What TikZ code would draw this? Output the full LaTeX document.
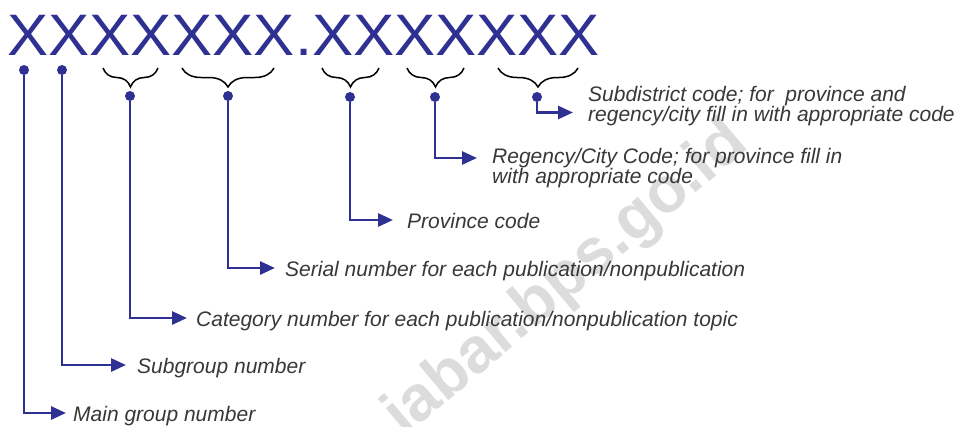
\documentclass[tikz,border=0pt]{standalone}
\usepackage{fontspec}
\setmainfont{Liberation Sans}
\usetikzlibrary{arrows.meta,decorations.pathreplacing,calc}
\definecolor{codeblue}{HTML}{2E3192}
\definecolor{labelgray}{HTML}{383838}
\definecolor{wmgray}{HTML}{DCDCDC}
\begin{document}
\begin{tikzpicture}[x=1pt,y=-1pt,
  conn/.style={draw=codeblue, line width=2.8pt, line join=miter, -{Triangle[length=15pt,width=13pt]}},
  dotnode/.style={circle, fill=codeblue, inner sep=0pt, minimum size=10pt},
  bracedec/.style={decorate, decoration={brace, mirror, amplitude=19pt}, draw=black, line width=1.5pt},
  lbl/.style={anchor=west, inner sep=0pt, text=labelgray, text height=17pt, text depth=0pt,
    font=\fontsize{21}{20}\selectfont\itshape},
  lbltwo/.style={anchor=north west, inner sep=0pt, text=labelgray, align=left,
    font=\fontsize{21}{20}\selectfont\itshape},
  codetext/.style={anchor=base west, inner sep=0pt, text=codeblue, font=\fontsize{58.5}{60}\selectfont},
  watermark/.style={anchor=base west, inner sep=0pt, rotate=40, text=wmgray, font=\fontsize{64}{64}\selectfont\bfseries}
]
\fill[white] (0,0) rectangle (961,426);
\useasboundingbox (0,0) rectangle (961,426);
\begin{scope}
\clip (0,0) rectangle (961,426);
\node[watermark] (wm) at (404,438) {jabar.bps.go.id};
\end{scope}

% code string
\node[codetext] (code) at (7,55) {\scalebox{1.054}[1]{XXXXXXX.XXXXXXX}};

% braces
\draw[bracedec] (103,68) -- (158,68);
\draw[bracedec] (182,68) -- (274,68);
\draw[bracedec] (322,68) -- (379,68);
\draw[bracedec] (407,68) -- (464,68);
\draw[bracedec] (498,68) -- (578,68);

% dots
\node[dotnode] (d1) at (24,70) {};
\node[dotnode] (d2) at (62,70) {};
\node[dotnode] (d3) at (130,96) {};
\node[dotnode] (d4) at (228,96) {};
\node[dotnode] (d5) at (350,97) {};
\node[dotnode] (d6) at (435,97) {};
\node[dotnode] (d7) at (537,97) {};

% labels
\node[lbl] (t1) at (73,413) {Main group number};
\node[lbl] (t2) at (137,365) {Subgroup number};
\node[lbl] (t3) at (196,318) {Category number for each publication/nonpublication topic};
\node[lbl] (t4) at (285,268) {Serial number for each publication/nonpublication};
\node[lbl] (t5) at (407,220) {Province code};
\node[lbltwo] (t6) at (492,148) {Regency/City Code; for province fill in\\with appropriate code};
\node[lbltwo] (t7) at (588,86.5) {Subdistrict code; for~ province and\\regency/city fill in with appropriate code};

% connectors
\draw[conn, shorten >=7pt] (d1) |- (t1.west);
\draw[conn, shorten >=11pt] (d2) |- (t2.west);
\draw[conn, shorten >=9pt] (d3) |- (t3.west);
\draw[conn, shorten >=10pt] (d4) |- (t4.west);
\draw[conn, shorten >=14pt] (d5) |- (t5.west);
\draw[conn, shorten >=15pt] (d6) |- ($(t6.north west)+(0,10)$);
\draw[conn, shorten >=15pt] (d7) |- ($(t7.north west)+(0,26)$);
\end{tikzpicture}
\end{document}
